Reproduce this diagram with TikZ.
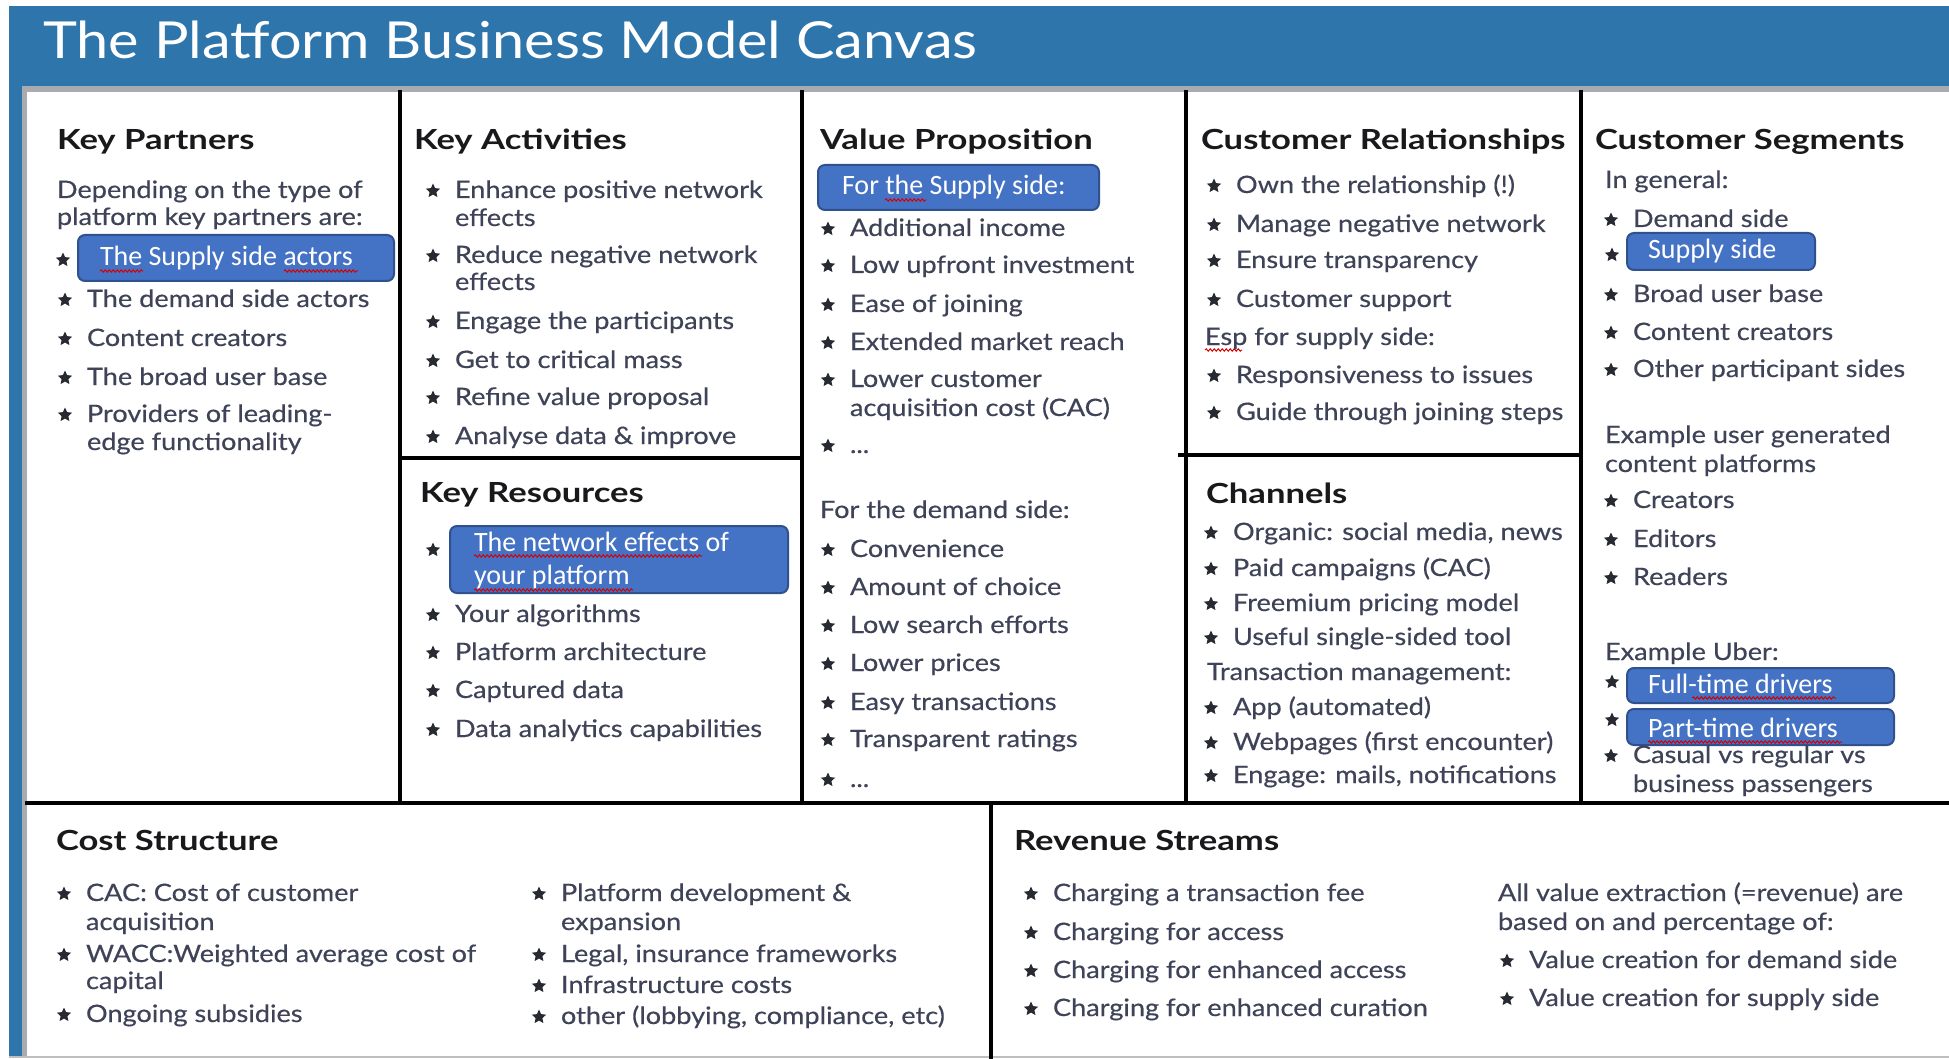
\documentclass[tikz,border=0pt]{standalone}
\usepackage{fontspec}
\setmainfont{Lato}[FakeStretch=1.13, FakeBold=0.4]
\newfontfamily\headfont{Lato}[FakeStretch=1.25]
\newfontfamily\titlefont{Lato}[FakeStretch=1.13]
\newfontfamily\boxfont{Carlito}
\usetikzlibrary{shapes.geometric,decorations.pathmorphing}
\definecolor{bandblue}{RGB}{46,117,172}
\definecolor{bandgray}{RGB}{168,172,176}
\definecolor{bodyc}{RGB}{62,67,88}
\definecolor{headc}{RGB}{25,25,28}
\definecolor{starc}{RGB}{40,42,50}
\definecolor{boxfill}{RGB}{68,114,196}
\definecolor{boxedge}{RGB}{47,82,143}
\tikzset{
  txt/.style={anchor=base west, inner sep=0pt, outer sep=0pt, text=bodyc, font=\fontsize{24}{28}\selectfont},
  head/.style={anchor=base west, inner sep=0pt, outer sep=0pt, text=headc, font=\headfont\bfseries\fontsize{27.7}{30}\selectfont},
  bstar/.style={star, star points=5, star point ratio=2.1, fill=starc, draw=none, minimum size=15pt, inner sep=0pt},
  hbox/.style={anchor=north west, rounded corners=7pt, fill=boxfill, draw=boxedge, line width=2pt, inner sep=0pt},
  boxtxt/.style={anchor=base west, inner sep=0pt, outer sep=0pt, text=white, font=\boxfont\fontsize{28}{32}\selectfont},
  gridline/.style={line width=3.2pt, black},
  squig/.style={draw=red!85!black, line width=1pt, decorate, decoration={snake, amplitude=1.2pt, segment length=4pt}},
}
\newcommand\bitem[4]{\node[bstar] (#1s) at (#2-22,#3-7) {}; \node[txt] (#1) at (#2,#3) {#4};}
\newcommand\hb[5]{\node[hbox, minimum width=#4pt, minimum height=#5pt] (#1) at (#2,#3) {};}
\begin{document}
\begin{tikzpicture}[x=1pt,y=-1pt]
\useasboundingbox (0,0) rectangle (1949,1059);
\fill[white] (0,0) rectangle (1949,1059);
% frame
\fill[bandblue] (9,6) rectangle (1949,86);
\fill[bandgray] (9,86) rectangle (1949,92);
\fill[bandblue] (9,86) rectangle (22,1057);
\fill[bandgray] (22,92) rectangle (27,1057);
\draw[black!25, line width=2pt] (9,1057) -- (1949,1057);
\node[anchor=base west, inner sep=0pt, text=white, font=\titlefont\fontsize{51}{58}\selectfont] (title) at (43,59) {The Platform Business Model Canvas};
% grid
\draw[gridline] (400,90) -- (400,803);
\draw[gridline] (802,90) -- (802,803);
\draw[gridline] (1186,90) -- (1186,803);
\draw[gridline] (1581,90) -- (1581,803);
\draw[gridline] (400,458) -- (802,458);
\draw[gridline] (1178,455) -- (1581,455);
\draw[line width=3.6pt] (25,803) -- (1949,803);
\draw[gridline] (991,803) -- (991,1059);
% Key Partners
\node[head] (kph) at (57,150) {Key Partners};
\node[txt] (kp1) at (57,198) {Depending on the type of};
\node[txt] (kp2) at (57,225) {platform key partners are:};
\hb{kpb}{77}{234}{316}{46}
\node[bstar] (kpbs) at (63,260) {};
\node[boxtxt] (kpbt) at (100,266) {The Supply side actors};
\draw[squig] (100,271) -- (143,271);
\draw[squig] (284,271) -- (358,271);
\bitem{kp3}{87}{307}{The demand side actors}
\bitem{kp4}{87}{346}{Content creators}
\bitem{kp5}{87}{385}{The broad user base}
\bitem{kp6}{87}{422}{Providers of leading-}
\node[txt] (kp7) at (87,450) {edge functionality};
% Key Activities
\node[head] (kah) at (414,150) {Key Activities};
\bitem{ka1}{455}{198}{Enhance positive network}
\node[txt] (ka1b) at (455,226) {effects};
\bitem{ka2}{455}{263}{Reduce negative network}
\node[txt] (ka2b) at (455,290) {effects};
\bitem{ka3}{455}{329}{Engage the participants}
\bitem{ka4}{455}{368}{Get to critical mass}
\bitem{ka5}{455}{405}{Refine value proposal}
\bitem{ka6}{455}{444}{Analyse data \& improve}
% Key Resources
\node[head] (krh) at (420,502) {Key Resources};
\hb{krb}{449}{525}{338}{67}
\node[bstar] (krbs) at (433,550) {};
\node[boxtxt] (krbt1) at (474,551) {The network effects of};
\node[boxtxt] (krbt2) at (474,584) {your platform};
\draw[squig] (474,556) -- (702,556);
\draw[squig] (474,590) -- (633,590);
\bitem{kr1}{455}{622}{Your algorithms}
\bitem{kr2}{455}{660}{Platform architecture}
\bitem{kr3}{455}{698}{Captured data}
\bitem{kr4}{455}{737}{Data analytics capabilities}
% Value Proposition
\node[head] (vph) at (820,150) {Value Proposition};
\hb{vpb}{817}{164}{281}{45}
\node[boxtxt] (vpbt) at (842,195) {For the Supply side:};
\draw[squig] (885,200) -- (926,200);
\bitem{vp1}{850}{236}{Additional income}
\bitem{vp2}{850}{273}{Low upfront investment}
\bitem{vp3}{850}{312}{Ease of joining}
\bitem{vp4}{850}{350}{Extended market reach}
\bitem{vp5}{850}{387}{Lower customer}
\node[txt] (vp5b) at (850,416) {acquisition cost (CAC)};
\bitem{vp6}{850}{453}{...}
\node[txt] (vpd) at (820,518) {For the demand side:};
\bitem{vp7}{850}{557}{Convenience}
\bitem{vp8}{850}{595}{Amount of choice}
\bitem{vp9}{850}{633}{Low search efforts}
\bitem{vp10}{850}{671}{Lower prices}
\bitem{vp11}{850}{710}{Easy transactions}
\bitem{vp12}{850}{747}{Transparent ratings}
\bitem{vp13}{850}{787}{...}
% Customer Relationships
\node[head] (crh) at (1201,150) {Customer Relationships};
\bitem{cr1}{1236}{193}{Own the relationship (!)}
\bitem{cr2}{1236}{232}{Manage negative network}
\bitem{cr3}{1236}{268}{Ensure transparency}
\bitem{cr4}{1236}{307}{Customer support}
\node[txt] (cresp) at (1205,345) {Esp for supply side:};
\draw[squig] (1205,350) -- (1242,350);
\bitem{cr5}{1236}{383}{Responsiveness to issues}
\bitem{cr6}{1236}{420}{Guide through joining steps}
% Channels
\node[head] (chh) at (1206,503) {Channels};
\bitem{ch1}{1233}{540}{Organic: social media, news}
\bitem{ch2}{1233}{576}{Paid campaigns (CAC)}
\bitem{ch3}{1233}{611}{Freemium pricing model}
\bitem{ch4}{1233}{645}{Useful single-sided tool}
\node[txt] (chtm) at (1207,680) {Transaction management:};
\bitem{ch5}{1233}{715}{App (automated)}
\bitem{ch6}{1233}{750}{Webpages (first encounter)}
\bitem{ch7}{1233}{783}{Engage: mails, notifications}
% Customer Segments
\node[head] (csh) at (1595,150) {Customer Segments};
\node[txt] (csg) at (1605,188) {In general:};
\bitem{cs1}{1633}{227}{Demand side}
\hb{csb}{1626}{232}{188}{37}
\node[bstar] (csbs) at (1612,255) {};
\node[boxtxt] (csbt) at (1648,259) {Supply side};
\bitem{cs2}{1633}{302}{Broad user base}
\bitem{cs3}{1633}{340}{Content creators}
\bitem{cs4}{1633}{377}{Other participant sides}
\node[txt] (csu1) at (1605,443) {Example user generated};
\node[txt] (csu2) at (1605,472) {content platforms};
\bitem{cs5}{1633}{508}{Creators}
\bitem{cs6}{1633}{547}{Editors}
\bitem{cs7}{1633}{585}{Readers}
\node[txt] (csub) at (1605,660) {Example Uber:};
\hb{csb1}{1626}{667}{267}{35}
\node[bstar] (csb1s) at (1612,682) {};
\node[boxtxt] (csb1t) at (1648,693) {Full-time drivers};
\draw[squig] (1692,698) -- (1836,698);
\hb{csb2}{1626}{708}{267}{36}
\node[bstar] (csb2s) at (1612,720) {};
\node[boxtxt] (csb2t) at (1648,737) {Part-time drivers};
\draw[squig] (1648,742) -- (1842,742);
\bitem{cs8}{1633}{763}{Casual vs regular vs}
\node[txt] (cs8b) at (1633,792) {business passengers};
% Cost Structure
\node[head] (coh) at (56,850) {Cost Structure};
\bitem{co1}{86}{901}{CAC: Cost of customer}
\node[txt] (co1b) at (86,930) {acquisition};
\bitem{co2}{86}{962}{WACC:Weighted average cost of}
\node[txt] (co2b) at (86,989) {capital};
\bitem{co3}{86}{1022}{Ongoing subsidies}
\bitem{co4}{561}{901}{Platform development \&}
\node[txt] (co4b) at (561,930) {expansion};
\bitem{co5}{561}{962}{Legal, insurance frameworks}
\bitem{co6}{561}{993}{Infrastructure costs}
\bitem{co7}{561}{1024}{other (lobbying, compliance, etc)}
% Revenue Streams
\node[head] (rsh) at (1014,850) {Revenue Streams};
\bitem{rs1}{1053}{901}{Charging a transaction fee}
\bitem{rs2}{1053}{940}{Charging for access}
\bitem{rs3}{1053}{978}{Charging for enhanced access}
\bitem{rs4}{1053}{1016}{Charging for enhanced curation}
\node[txt] (rsa1) at (1498,901) {All value extraction (=revenue) are};
\node[txt] (rsa2) at (1498,930) {based on and percentage of:};
\bitem{rs5}{1529}{968}{Value creation for demand side}
\bitem{rs6}{1529}{1006}{Value creation for supply side}
\end{tikzpicture}
\end{document}
